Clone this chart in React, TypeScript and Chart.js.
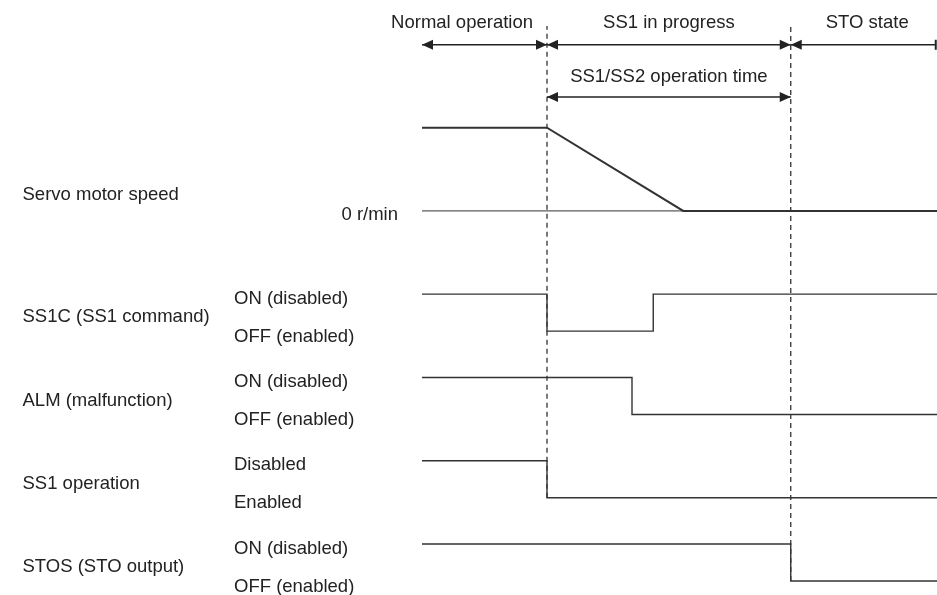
import React, { useEffect, useRef } from "react";
import { Chart, registerables } from "chart.js";

Chart.register(...registerables);

// ---- Time axis (arbitrary time units) ----
const T_MIN = -33.76;
const T_MAX = 41.2;

// Phase boundaries and labels
const phaseBounds = [0, 10, 29.5, 41.1];
const phaseLabels = ["Normal operation", "SS1 in progress", "STO state"];
const opTimeBounds = [10, 29.5];
const opTimeLabel = "SS1/SS2 operation time";

// Servo motor speed (normalized: 1 = running, 0 = 0 r/min)
const speedTimes = [0, 10, 20.9, 41.2];
const speedValues = [1, 1, 0, 0];

// Digital signals (1 = upper level, 0 = lower level)
const signalNames = ["SS1C (SS1 command)", "ALM (malfunction)", "SS1 operation", "STOS (STO output)"];
const signalHighLabels = ["ON (disabled)", "ON (disabled)", "Disabled", "ON (disabled)"];
const signalLowLabels = ["OFF (enabled)", "OFF (enabled)", "Enabled", "OFF (enabled)"];
const ss1cTimes = [0, 10, 18.5, 41.2];
const ss1cStates = [1, 0, 1, 1];
const almTimes = [0, 16.8, 41.2];
const almStates = [1, 0, 0];
const ss1opTimes = [0, 10, 41.2];
const ss1opStates = [1, 0, 0];
const stosTimes = [0, 29.5, 41.2];
const stosStates = [1, 0, 0];

// Event markers (dashed lines)
const markerTimes = [10, 29.5];

// ---- Layout (lane positions on the vertical scale) ----
const Y_MIN = -0.38;
const Y_MAX = 15.7;
const signalBase = [6.75, 4.5, 2.25, 0];
const speedBase = 10;
const speedAmp = 2.25;
const markerBottom = [2.25, 0];
const markerTop = 15;
const phaseLabelY = 15.12;
const phaseArrowY = 14.49;
const opLabelY = 13.66;
const opArrowY = 13.08;
const nameX = -31.96;
const stateX = -15.04;
const zeroLabelX = -1.92;

const LINE = "#333333";
const TEXT = "#222222";
const FONT_PX = 18.5;
const FONT = `${FONT_PX}px 'Liberation Sans', Arial, sans-serif`;

function pts(times: number[], vals: number[], base: number, amp: number) {
  return times.map((t, i) => ({ x: t, y: base + vals[i] * amp }));
}

const decorPlugin = {
  id: "timingDecor",
  afterDatasetsDraw(chart: any) {
    const ctx = chart.ctx as CanvasRenderingContext2D;
    const xs = chart.scales.x;
    const ys = chart.scales.y;
    const X = (v: number) => xs.getPixelForValue(v);
    const Y = (v: number) => ys.getPixelForValue(v);
    const capHalf = FONT_PX * 0.358;
    ctx.save();
    ctx.fillStyle = TEXT;
    ctx.font = FONT;
    ctx.textBaseline = "alphabetic";
    // draw text with its cap-height centre at y
    const txt = (s: string, x: number, y: number, align: CanvasTextAlign) => {
      ctx.textAlign = align;
      ctx.fillText(s, x, y + capHalf);
    };

    // Speed labels
    txt("Servo motor speed", X(nameX), Y(speedBase + 0.475), "left");
    txt("0 r/min", X(zeroLabelX), Y(speedBase) + 2.5, "right");

    // Signal labels
    signalNames.forEach((name, i) => {
      const b = signalBase[i];
      txt(name, X(nameX), Y(b + 0.42), "left");
      txt(signalHighLabels[i], X(stateX), Y(b + 1) + 3, "left");
      txt(signalLowLabels[i], X(stateX), Y(b) + 4, "left");
    });

    // Phase labels
    for (let i = 0; i < phaseLabels.length; i++) {
      const a = X(phaseBounds[i]);
      const b = X(phaseBounds[i + 1]);
      if (i === 0) txt(phaseLabels[i], b - 14, Y(phaseLabelY), "right");
      else if (i === phaseLabels.length - 1) txt(phaseLabels[i], (a + b) / 2 + 4, Y(phaseLabelY), "center");
      else txt(phaseLabels[i], (a + b) / 2, Y(phaseLabelY), "center");
    }
    txt(opTimeLabel, (X(opTimeBounds[0]) + X(opTimeBounds[1])) / 2, Y(opLabelY), "center");

    // Arrows
    const head = (x: number, y: number, dir: number) => {
      ctx.beginPath();
      ctx.moveTo(x, y);
      ctx.lineTo(x - dir * 11, y - 5);
      ctx.lineTo(x - dir * 11, y + 5);
      ctx.closePath();
      ctx.fill();
    };
    const arrow = (x1: number, x2: number, y: number, leftHead: boolean, rightHead: boolean) => {
      ctx.strokeStyle = TEXT;
      ctx.fillStyle = TEXT;
      ctx.lineWidth = 1.5;
      ctx.beginPath();
      ctx.moveTo(x1, y);
      ctx.lineTo(x2, y);
      ctx.stroke();
      if (leftHead) head(x1, y, -1);
      if (rightHead) head(x2, y, 1);
    };
    const ay = Y(phaseArrowY);
    for (let i = 0; i < phaseLabels.length; i++) {
      const last = i === phaseLabels.length - 1;
      const x1 = X(phaseBounds[i]);
      const x2 = X(phaseBounds[i + 1]);
      arrow(x1, x2, ay, true, !last);
      if (last) {
        ctx.lineWidth = 2;
        ctx.beginPath();
        ctx.moveTo(x2, ay - 5);
        ctx.lineTo(x2, ay + 5);
        ctx.stroke();
      }
    }
    arrow(X(opTimeBounds[0]), X(opTimeBounds[1]), Y(opArrowY), true, true);
    ctx.restore();
  },
};

export default function App() {
  const ref = useRef<HTMLCanvasElement | null>(null);
  useEffect(() => {
    if (!ref.current) return;
    const signalSets = [
      [ss1cTimes, ss1cStates],
      [almTimes, almStates],
      [ss1opTimes, ss1opStates],
      [stosTimes, stosStates],
    ].map(([t, s], i) => ({
      label: signalNames[i],
      data: pts(t as number[], s as number[], signalBase[i], 1),
      stepped: "before" as const,
      borderColor: LINE,
      borderWidth: 1.4,
      pointRadius: 0,
      fill: false,
    }));
    const markerSets = markerTimes.map((t, i) => ({
      label: "marker" + i,
      data: [
        { x: t, y: markerBottom[i] },
        { x: t, y: markerTop },
      ],
      borderColor: LINE,
      borderWidth: 1.3,
      borderDash: [5, 4],
      pointRadius: 0,
      fill: false,
    }));
    const chart = new Chart(ref.current, {
      type: "line",
      data: {
        datasets: [
          ...markerSets,
          {
            label: "zero",
            data: [
              { x: speedTimes[0], y: speedBase },
              { x: speedTimes[speedTimes.length - 1], y: speedBase },
            ],
            borderColor: LINE,
            borderWidth: 1,
            pointRadius: 0,
            fill: false,
          },
          {
            label: "Servo motor speed",
            data: pts(speedTimes, speedValues, speedBase, speedAmp),
            borderColor: LINE,
            borderWidth: 2,
            pointRadius: 0,
            fill: false,
          },
          ...signalSets,
        ],
      },
      options: {
        animation: false,
        responsive: false,
        devicePixelRatio: 1,
        layout: { padding: 0 },
        plugins: { legend: { display: false }, tooltip: { enabled: false } },
        events: [],
        scales: {
          x: { type: "linear", min: T_MIN, max: T_MAX, display: false },
          y: { type: "linear", min: Y_MIN, max: Y_MAX, display: false },
        },
      },
      plugins: [decorPlugin],
    });
    return () => chart.destroy();
  }, []);
  return (
    <div style={{ position: "absolute", left: 0, top: 0, width: 937, height: 595, background: "#fff" }}>
      <canvas ref={ref} width={937} height={595} />
    </div>
  );
}
